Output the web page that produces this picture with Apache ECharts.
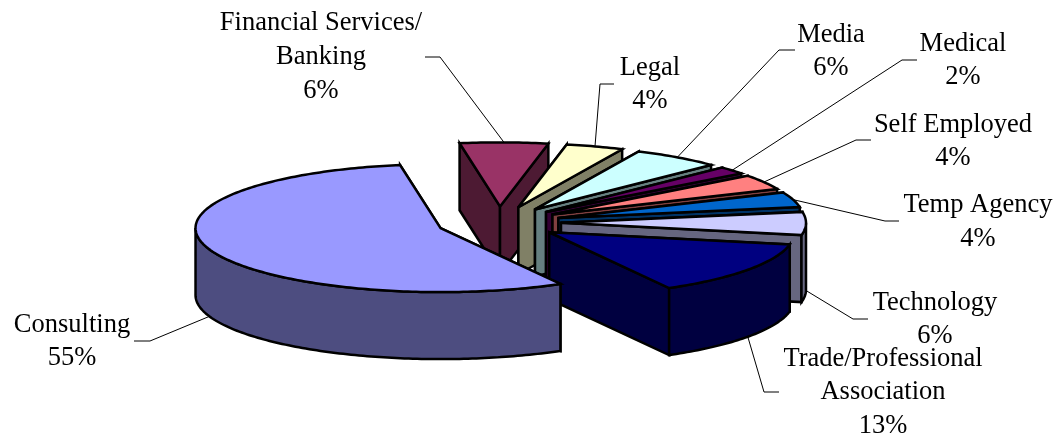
<!DOCTYPE html>
<html>
<head>
<meta charset="utf-8">
<style>html,body{margin:0;padding:0;background:#fff}#c{width:1057px;height:437px}</style>
<script src="https://cdn.jsdelivr.net/npm/echarts@6/dist/echarts.min.js"></script>
</head>
<body>
<div id="c"></div>
<script>
// Data, clockwise from the top of the pie; Consulting is drawn last because it sits in front.
const categories = ['Financial Services/\nBanking', 'Legal', 'Media', 'Medical', 'Self Employed', 'Temp Agency', 'Technology', 'Trade/Professional\nAssociation', 'Consulting'];
const percentLabels = [6, 4, 6, 2, 4, 4, 6, 13, 55];
const shares = [5.8, 3.8, 5.8, 1.9, 3.8, 3.8, 5.8, 13.8, 55.5];
const topColors = ['#993366', '#FFFFCC', '#CCFFFF', '#660066', '#FF8080', '#0066CC', '#CCCCFF', '#000080', '#9999FF'];
const wallColors = ['#4D1A33', '#808066', '#668080', '#330033', '#804040', '#003366', '#666680', '#000040', '#4D4D80'];

// Label block centre and the two outer points of each leader line (parallel to categories).
const labelCentres = [[321, 57], [650, 84.5], [831, 51.5], [963, 60.5], [953, 141.5], [978, 222], [935, 319.5], [883, 392.5], [72, 341.5]];
const leaderElbows = [[[440, 57], [425, 57]], [[600, 84], [614, 84]], [[779, 50], [795, 50]], [[902, 60], [917, 60]], [[856, 140], [871, 140]], [[885, 221], [899, 221]], [[853, 319], [868, 319]], [[764, 392], [779, 392]], [[150, 341], [134, 341]]];

// Pie projection
const CX = 499, CY = 222.7, RX = 245, RY = 64, DEPTH = 67, EXPLODE_X = 62, EXPLODE_Y = 16.3, START_DEG = 260.5;
const rad = d => d * Math.PI / 180;
const total = shares.reduce((a, b) => a + b, 0);

function sliceAngles(i) {
  let before = 0;
  for (let k = 0; k < i; k++) before += shares[k];
  const a0 = START_DEG + before / total * 360;
  return [a0, a0 + shares[i] / total * 360];
}
function arc(apex, a0, a1, dy) {
  const pts = [];
  const n = Math.max(2, Math.ceil(a1 - a0));
  for (let k = 0; k <= n; k++) {
    const t = rad(a0 + (a1 - a0) * k / n);
    pts.push([apex[0] + RX * Math.cos(t), apex[1] + RY * Math.sin(t) + dy]);
  }
  return pts;
}
const edge = { stroke: '#000', lineWidth: 2.5, lineJoin: 'miter', miterLimit: 4 };
function poly(points, fill) {
  return { type: 'polygon', silent: true, shape: { points }, style: Object.assign({ fill }, edge) };
}

function renderItem(params, api) {
  const i = params.dataIndex;
  const [a0, a1] = sliceAngles(i);
  const mid = rad((a0 + a1) / 2);
  const apex = [CX + EXPLODE_X * Math.cos(mid), CY + EXPLODE_Y * Math.sin(mid)];
  const wall = wallColors[i], children = [];

  // Cut faces
  [a0, a1].forEach(a => {
    const rim = arc(apex, a, a, 0)[0];
    children.push(poly([apex, rim, [rim[0], rim[1] + DEPTH], [apex[0], apex[1] + DEPTH]], wall));
  });
  // Outer wall, front half of the ellipse only
  [[0, 180], [360, 540]].forEach(([lo, hi]) => {
    const s = Math.max(a0, lo), e = Math.min(a1, hi);
    if (e > s) {
      children.push(poly(arc(apex, s, e, 0).concat(arc(apex, s, e, DEPTH).reverse()), wall));
    }
  });
  // Top surface
  children.push(poly([apex].concat(arc(apex, a0, a1, 0)), topColors[i]));

  // Leader line and label
  const onFront = Math.sin(mid) > 0;
  const anchor = [apex[0] + RX * Math.cos(mid), apex[1] + RY * Math.sin(mid) + (onFront ? DEPTH : 0)];
  children.push({
    type: 'polyline', silent: true,
    shape: { points: [anchor].concat(leaderElbows[i]) },
    style: { fill: 'none', stroke: '#000', lineWidth: 1 }
  });
  children.push({
    type: 'text', silent: true,
    x: labelCentres[i][0], y: labelCentres[i][1],
    style: {
      text: categories[i] + '\n' + percentLabels[i] + '%',
      fill: '#000', font: '26.5px "Liberation Serif", serif',
      lineHeight: 33.7, align: 'center', verticalAlign: 'middle'
    }
  });
  return { type: 'group', children };
}

const chart = echarts.init(document.getElementById('c'), null, { renderer: 'canvas' });
chart.setOption({
  animation: false,
  backgroundColor: '#fff',
  tooltip: { show: false },
  series: [{
    type: 'custom',
    coordinateSystem: 'none',
    renderItem,
    silent: true,
    clip: false,
    data: shares.map((v, i) => ({ name: categories[i], value: [v] }))
  }]
});
</script>
</body>
</html>
